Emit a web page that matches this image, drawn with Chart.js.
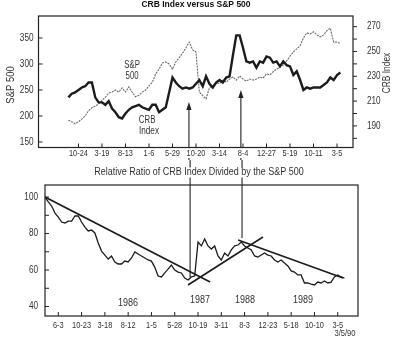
<!DOCTYPE html>
<html lang="en">
<head>
  <meta charset="UTF-8" />
  <title>CRB Index versus S&amp;P 500</title>
  <script src="https://cdn.jsdelivr.net/npm/chart.js@4.4.0/dist/chart.umd.min.js"></script>
  <style>
    html, body { margin: 0; padding: 0; background: #fff; }
    .wrap { position: relative; width: 400px; height: 345px; overflow: hidden; }
    #topChart { position: absolute; left: 0; top: 0; }
    #ratioChart { position: absolute; left: 0; top: 160px; }
  </style>
</head>
<body>
  <div class="wrap">
    <canvas id="topChart" width="400" height="160"></canvas>
    <canvas id="ratioChart" width="400" height="185"></canvas>
  </div>

  <script>
    // --- data (roughly every 3 weeks) ---
    const topTickLabels = ['10-24', '3-19', '8-13', '1-6', '5-29', '10-20', '3-14', '8-4', '12-27', '5-19', '10-11', '3-5'];
    const ratioTickLabels = ['6-3', '10-23', '3-18', '8-12', '1-5', '5-28', '10-19', '3-11', '8-3', '12-23', '5-18', '10-10', '3-5'];

    const spTicks = [150, 200, 250, 300, 350];
    const crbTicks = [180, 190, 200, 210, 220, 230, 240, 250, 260, 270];
    const crbLabels = [190, 210, 230, 250, 270];
    const ratioTicks = [40, 50, 60, 70, 80, 90, 100];
    const ratioLabels = [40, 60, 80, 100];

    // S&P 500 (left axis)
    const spValues = [192, 189, 185, 189, 194, 200, 210, 216, 219, 223, 230, 236, 244, 246, 250, 246,
      254, 246, 256, 246, 237, 240, 246, 250, 258, 265, 281, 290, 302, 304, 300, 290, 304, 312, 321,
      331, 342, 327, 323, 246, 239, 233, 254, 258, 264, 262, 269, 265, 271, 275, 269, 277, 271, 267,
      271, 269, 271, 275, 273, 281, 279, 285, 290, 294, 298, 306, 315, 323, 329, 335, 350, 360, 358,
      362, 356, 352, 356, 364, 369, 342, 342, 339];

    // CRB Index (right axis)
    const crbValues = [213, 216, 217, 219, 221, 222, 225, 225, 213, 209, 209, 207, 210, 204, 201, 197,
      196, 200, 203, 205, 206, 207, 205, 204, 203, 207, 207, 201, 203, 205, 217, 229, 225, 222, 220,
      221, 220, 221, 224, 227, 222, 230, 224, 221, 225, 227, 225, 229, 230, 247, 263, 263, 253, 242,
      241, 242, 237, 242, 241, 246, 245, 241, 242, 238, 242, 239, 238, 231, 234, 227, 219, 221, 220,
      221, 221, 221, 223, 225, 229, 227, 231, 233];

    // CRB / S&P relative ratio
    const ratioValues = [100.0, 97.3, 95.1, 91.2, 89.0, 86.3, 85.8, 86.8, 86.8, 89.6, 89.6, 86.3, 83.5,
      81.4, 81.9, 80.3, 74.8, 70.4, 68.2, 66.0, 67.7, 64.4, 63.3, 63.3, 64.9, 64.4, 66.6, 69.9, 68.8,
      67.7, 66.6, 65.5, 64.9, 61.6, 56.7, 56.2, 58.4, 60.5, 62.7, 60.0, 58.9, 58.4, 55.6, 54.5, 56.2,
      56.7, 75.3, 73.2, 77.0, 73.2, 71.5, 73.2, 67.7, 65.5, 69.3, 67.7, 71.0, 73.2, 73.7, 75.3, 73.2,
      72.1, 71.0, 67.7, 67.1, 68.2, 69.3, 68.2, 67.7, 65.5, 64.4, 65.5, 63.8, 62.2, 59.5, 58.9, 57.3,
      57.3, 52.9, 52.9, 52.3, 51.8, 53.4, 52.9, 54.0, 52.9, 53.4, 56.2, 57.3, 56.2, 55.6];

    // trend lines drawn on the ratio panel (tick index, ratio)
    const trendDown1 = [{ x: -0.57, y: 100 }, { x: 6.52, y: 53.4 }];
    const trendUp = [{ x: 5.57, y: 51.8 }, { x: 8.79, y: 78.1 }];
    const trendDown2 = [{ x: 7.72, y: 76.4 }, { x: 12.23, y: 55.6 }];

    // x is measured in tick intervals; one sample every 1/7 of an interval (~3 weeks)
    const STEP = 1 / 7;
    const TOP_START = -3 / 7;
    const RATIO_START = -4 / 7;

    // arrows linking the two panels
    const arrowsTop = [{ x: 4.70, y: 227 }, { x: 6.91, y: 250 }];
    const dropsRatio = [{ x: 5.66, y: 56.2 }, { x: 7.89, y: 77.5 }];
    const yearLabels = [{ t: '1986', x: 2.99, y: 41.9 }, { t: '1987', x: 6.09, y: 43.6 }, { t: '1988', x: 8.02, y: 43.6 }, { t: '1989', x: 10.51, y: 43.6 }];

    const FONT = "'Liberation Sans', Arial, sans-serif";
    const INK = '#333';

    function toPoints(values, start) {
      return values.map((v, i) => ({ x: start + i * STEP, y: v }));
    }

    function seg(ctx, x1, y1, x2, y2) {
      ctx.beginPath();
      ctx.moveTo(x1, y1);
      ctx.lineTo(x2, y2);
      ctx.stroke();
    }

    // the book uses a narrow face, so squeeze the text horizontally
    function txt(ctx, text, x, y, o) {
      o = o || {};
      ctx.save();
      ctx.translate(x, y);
      if (o.rotate) ctx.rotate(o.rotate);
      ctx.scale(o.squeeze || 0.82, 1);
      ctx.font = (o.bold ? 'bold ' : '') + (o.size || 10) + 'px ' + FONT;
      ctx.textAlign = o.align || 'center';
      ctx.textBaseline = 'middle';
      ctx.fillText(text, 0, 0);
      ctx.restore();
    }

    const hiddenAxis = { grid: { display: false }, border: { display: false }, ticks: { display: false } };

    // --- top panel: CRB vs S&P ---
    const topFrame = {
      id: 'topFrame',
      afterDraw(chart) {
        const { ctx, chartArea: a, scales } = chart;
        ctx.save();
        ctx.strokeStyle = '#222';
        ctx.fillStyle = '#222';
        ctx.lineWidth = 1.2;
        ctx.strokeRect(a.left, a.top, a.right - a.left, a.bottom - a.top);

        ctx.lineWidth = 1;
        topTickLabels.forEach((_, i) => {
          const px = scales.x.getPixelForValue(i);
          seg(ctx, px, a.bottom, px, a.bottom - 4);
        });
        spTicks.forEach(v => {
          const py = scales.y.getPixelForValue(v);
          seg(ctx, a.left, py, a.left + 4, py);
        });
        crbTicks.forEach(v => {
          const py = scales.y1.getPixelForValue(v);
          seg(ctx, a.right, py, a.right + 4, py);
        });

        // arrows
        ctx.lineWidth = 1.1;
        arrowsTop.forEach(ar => {
          const px = scales.x.getPixelForValue(ar.x);
          const py = scales.y.getPixelForValue(ar.y);
          seg(ctx, px, py + 5, px, a.bottom);
          seg(ctx, px, 158, px, 160);
          ctx.beginPath();
          ctx.moveTo(px, py);
          ctx.lineTo(px - 2.6, py + 8);
          ctx.lineTo(px + 2.6, py + 8);
          ctx.closePath();
          ctx.fill();
        });

        // tick labels
        ctx.fillStyle = INK;
        topTickLabels.forEach((t, i) => {
          txt(ctx, t, scales.x.getPixelForValue(i), a.bottom + 6, { size: 9.5, squeeze: 0.78 });
        });
        spTicks.forEach(v => {
          txt(ctx, String(v), a.left - 5, scales.y.getPixelForValue(v), { align: 'right' });
        });
        crbLabels.forEach(v => {
          txt(ctx, String(v), a.right + 14, scales.y1.getPixelForValue(v), { align: 'left' });
        });

        // titles and series names
        ctx.fillStyle = '#111';
        txt(ctx, 'CRB Index versus S&P 500', 196, 5, { size: 8.5, bold: true, squeeze: 1 });
        ctx.fillStyle = INK;
        txt(ctx, 'S&P', scales.x.getPixelForValue(2.28), scales.y.getPixelForValue(298), { squeeze: 0.78 });
        txt(ctx, '500', scales.x.getPixelForValue(2.28), scales.y.getPixelForValue(277), { squeeze: 0.78 });
        txt(ctx, 'CRB', scales.x.getPixelForValue(2.92), scales.y.getPixelForValue(192), { squeeze: 0.78 });
        txt(ctx, 'Index', scales.x.getPixelForValue(3.0), scales.y.getPixelForValue(171), { squeeze: 0.82 });
        txt(ctx, 'S&P 500', 11, 85, { size: 10.5, squeeze: 0.9, rotate: -Math.PI / 2 });
        txt(ctx, 'CRB Index', 387, 73, { size: 10.5, squeeze: 0.8, rotate: -Math.PI / 2 });
        ctx.restore();
      }
    };

    new Chart(document.getElementById('topChart'), {
      type: 'line',
      data: {
        datasets: [
          {
            label: 'CRB Index',
            data: toPoints(crbValues, TOP_START),
            yAxisID: 'y1',
            borderColor: '#1c1c1c',
            borderWidth: 2.4,
            pointRadius: 0,
            tension: 0,
            order: 0
          },
          {
            label: 'S&P 500',
            data: toPoints(spValues, TOP_START),
            yAxisID: 'y',
            borderColor: '#6a6a6a',
            borderWidth: 1.1,
            borderDash: [2, 1],
            pointRadius: 0,
            tension: 0,
            order: 1
          }
        ]
      },
      options: {
        responsive: false,
        devicePixelRatio: 1,
        animation: false,
        layout: { padding: { top: 16, left: 0, right: 0, bottom: 0 } },
        plugins: { legend: { display: false }, tooltip: { enabled: false } },
        scales: {
          x: Object.assign({ type: 'linear', min: -1.70, max: 11.68, afterFit: s => { s.height = 12.5; } }, hiddenAxis),
          y: Object.assign({ position: 'left', min: 139.4, max: 392.3, afterFit: s => { s.width = 38.5; } }, hiddenAxis),
          y1: Object.assign({ position: 'right', min: 172.6, max: 278.6, afterFit: s => { s.width = 47; } }, hiddenAxis)
        }
      },
      plugins: [topFrame]
    });

    // --- bottom panel: relative ratio ---
    const ratioFrame = {
      id: 'ratioFrame',
      afterDraw(chart) {
        const { ctx, chartArea: a, scales } = chart;
        ctx.save();
        ctx.strokeStyle = '#222';
        ctx.lineWidth = 1.2;
        ctx.strokeRect(a.left, a.top, a.right - a.left, a.bottom - a.top);

        ctx.lineWidth = 1;
        ratioTickLabels.forEach((_, i) => {
          const px = scales.x.getPixelForValue(i);
          seg(ctx, px, a.bottom, px, a.bottom - 4);
        });
        ratioTicks.forEach(v => {
          const py = scales.y.getPixelForValue(v);
          seg(ctx, a.left, py, a.left + 4, py);
        });

        ctx.lineWidth = 1.1;
        dropsRatio.forEach(d => {
          const px = scales.x.getPixelForValue(d.x);
          const py = scales.y.getPixelForValue(d.y);
          seg(ctx, px, 0, px, 7.5);
          seg(ctx, px, 17.5, px, py);
        });

        ctx.fillStyle = INK;
        ratioTickLabels.forEach((t, i) => {
          txt(ctx, t, scales.x.getPixelForValue(i), a.bottom + 9, { size: 9.5, squeeze: 0.78 });
        });
        ratioLabels.forEach(v => {
          txt(ctx, String(v), a.left - 7, scales.y.getPixelForValue(v), { align: 'right' });
        });
        txt(ctx, 'Relative Ratio of CRB Index Divided by the S&P 500', 199, 12, { squeeze: 0.9 });
        yearLabels.forEach(l => {
          txt(ctx, l.t, scales.x.getPixelForValue(l.x), scales.y.getPixelForValue(l.y), { squeeze: 0.9 });
        });
        txt(ctx, '3/5/90', 345, 173, { size: 9.5, squeeze: 0.8 });
        ctx.restore();
      }
    };

    const trendStyle = { borderColor: '#1c1c1c', borderWidth: 1.6, pointRadius: 0, tension: 0 };

    new Chart(document.getElementById('ratioChart'), {
      type: 'line',
      data: {
        datasets: [
          {
            label: 'Relative ratio',
            data: toPoints(ratioValues, RATIO_START),
            borderColor: '#1c1c1c',
            borderWidth: 1.3,
            pointRadius: 0,
            tension: 0
          },
          Object.assign({ label: 'trend 1', data: trendDown1 }, trendStyle),
          Object.assign({ label: 'trend 2', data: trendUp }, trendStyle),
          Object.assign({ label: 'trend 3', data: trendDown2 }, trendStyle)
        ]
      },
      options: {
        responsive: false,
        devicePixelRatio: 1,
        animation: false,
        layout: { padding: { top: 25, left: 0, right: 42, bottom: 0 } },
        plugins: { legend: { display: false }, tooltip: { enabled: false } },
        scales: {
          x: Object.assign({ type: 'linear', min: -0.571, max: 12.87, afterFit: s => { s.height = 29; } }, hiddenAxis),
          y: Object.assign({ min: 34.8, max: 106.6, afterFit: s => { s.width = 45; } }, hiddenAxis)
        }
      },
      plugins: [ratioFrame]
    });
  </script>
</body>
</html>
